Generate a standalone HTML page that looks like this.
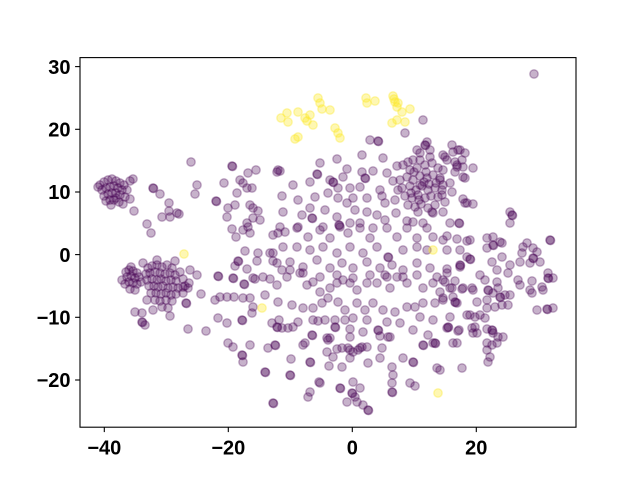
<!DOCTYPE html>
<html><head><meta charset="utf-8"><style>
html,body{margin:0;padding:0;background:#fff}
svg{display:block}
.t{font-family:"Liberation Sans",sans-serif;font-weight:bold;font-size:20px;fill:#000}
.p circle{fill:#440154;fill-opacity:.3;stroke:#440154;stroke-opacity:.3;stroke-width:1.4}
.y circle{fill:#fde725;fill-opacity:.35;stroke:#fde725;stroke-opacity:.35;stroke-width:1.4}
</style></head><body>
<svg width="640" height="480" viewBox="0 0 640 480" xmlns="http://www.w3.org/2000/svg">
<rect width="640" height="480" fill="#fff"/>
<g class="p">
<!-- top-left cluster -->
<circle r="4.2" cx="100" cy="185"/><circle r="4.2" cx="104" cy="182"/><circle r="4.2" cx="108" cy="180"/><circle r="4.2" cx="112" cy="179"/><circle r="4.2" cx="116" cy="181"/><circle r="4.2" cx="120" cy="183"/><circle r="4.2" cx="124" cy="185"/><circle r="4.2" cx="102" cy="190"/><circle r="4.2" cx="106" cy="188"/><circle r="4.2" cx="110" cy="187"/><circle r="4.2" cx="114" cy="186"/><circle r="4.2" cx="118" cy="188"/><circle r="4.2" cx="122" cy="190"/><circle r="4.2" cx="127" cy="190"/><circle r="4.2" cx="104" cy="196"/><circle r="4.2" cx="108" cy="194"/><circle r="4.2" cx="112" cy="193"/><circle r="4.2" cx="116" cy="193"/><circle r="4.2" cx="120" cy="195"/><circle r="4.2" cx="125" cy="197"/><circle r="4.2" cx="106" cy="201"/><circle r="4.2" cx="110" cy="200"/><circle r="4.2" cx="114" cy="200"/><circle r="4.2" cx="119" cy="202"/><circle r="4.2" cx="123" cy="204"/><circle r="4.2" cx="111" cy="205"/><circle r="4.2" cx="130" cy="181"/><circle r="4.2" cx="133" cy="179"/><circle r="4.2" cx="98" cy="187"/><circle r="4.2" cx="130" cy="199"/><circle r="4.2" cx="116" cy="198"/>
<!-- bottom-left cluster -->
<circle r="4.2" cx="126" cy="272"/><circle r="4.2" cx="129" cy="270"/><circle r="4.2" cx="133" cy="271"/><circle r="4.2" cx="137" cy="273"/><circle r="4.2" cx="127" cy="277"/><circle r="4.2" cx="131" cy="276"/><circle r="4.2" cx="135" cy="278"/><circle r="4.2" cx="139" cy="277"/><circle r="4.2" cx="129" cy="282"/><circle r="4.2" cx="133" cy="283"/><circle r="4.2" cx="137" cy="284"/><circle r="4.2" cx="125" cy="284"/><circle r="4.2" cx="130" cy="289"/><circle r="4.2" cx="135" cy="290"/><circle r="4.2" cx="122" cy="280"/><circle r="4.2" cx="141" cy="282"/><circle r="4.2" cx="131" cy="267"/>
<circle r="4.2" cx="148" cy="268"/><circle r="4.2" cx="152" cy="266"/><circle r="4.2" cx="157" cy="265"/><circle r="4.2" cx="162" cy="267"/><circle r="4.2" cx="167" cy="265"/><circle r="4.2" cx="172" cy="268"/><circle r="4.2" cx="146" cy="274"/><circle r="4.2" cx="150" cy="273"/><circle r="4.2" cx="155" cy="272"/><circle r="4.2" cx="160" cy="273"/><circle r="4.2" cx="165" cy="274"/><circle r="4.2" cx="170" cy="273"/><circle r="4.2" cx="175" cy="275"/><circle r="4.2" cx="180" cy="272"/><circle r="4.2" cx="147" cy="280"/><circle r="4.2" cx="152" cy="279"/><circle r="4.2" cx="157" cy="280"/><circle r="4.2" cx="161" cy="279"/><circle r="4.2" cx="166" cy="281"/><circle r="4.2" cx="171" cy="280"/><circle r="4.2" cx="176" cy="281"/><circle r="4.2" cx="183" cy="279"/><circle r="4.2" cx="149" cy="286"/><circle r="4.2" cx="154" cy="286"/><circle r="4.2" cx="158" cy="287"/><circle r="4.2" cx="163" cy="286"/><circle r="4.2" cx="168" cy="288"/><circle r="4.2" cx="173" cy="287"/><circle r="4.2" cx="178" cy="288"/><circle r="4.2" cx="185" cy="286"/><circle r="4.2" cx="151" cy="293"/><circle r="4.2" cx="156" cy="293"/><circle r="4.2" cx="161" cy="294"/><circle r="4.2" cx="166" cy="293"/><circle r="4.2" cx="171" cy="295"/><circle r="4.2" cx="176" cy="294"/><circle r="4.2" cx="155" cy="300"/><circle r="4.2" cx="160" cy="301"/><circle r="4.2" cx="166" cy="300"/><circle r="4.2" cx="172" cy="301"/><circle r="4.2" cx="147" cy="300"/><circle r="4.2" cx="162" cy="307"/><circle r="4.2" cx="175" cy="261"/><circle r="4.2" cx="143" cy="263"/><circle r="4.2" cx="183" cy="293"/><circle r="4.2" cx="189" cy="283"/><circle r="4.2" cx="157" cy="260"/><circle r="4.2" cx="190" cy="270"/>
<!-- left-middle region -->
<circle r="4.2" cx="191" cy="162"/><circle r="4.2" cx="232" cy="166"/><circle r="4.2" cx="232.5" cy="166.5"/><circle r="4.2" cx="248" cy="173"/><circle r="4.2" cx="256" cy="170"/><circle r="4.2" cx="277" cy="172"/><circle r="4.2" cx="224" cy="183"/><circle r="4.2" cx="197" cy="185"/><circle r="4.2" cx="195" cy="194"/><circle r="4.2" cx="153" cy="188"/><circle r="4.2" cx="153.5" cy="188.5"/><circle r="4.2" cx="160" cy="194"/>
<circle r="4.2" cx="216" cy="201"/><circle r="4.2" cx="216.5" cy="201.5"/><circle r="4.2" cx="240" cy="180"/><circle r="4.2" cx="243" cy="183"/><circle r="4.2" cx="237" cy="193"/><circle r="4.2" cx="247" cy="188"/><circle r="4.2" cx="252" cy="188"/><circle r="4.2" cx="169" cy="203"/><circle r="4.2" cx="169" cy="211"/><circle r="4.2" cx="134" cy="211"/><circle r="4.2" cx="162" cy="217"/><circle r="4.2" cx="170" cy="217"/><circle r="4.2" cx="177" cy="213"/><circle r="4.2" cx="179" cy="214"/><circle r="4.2" cx="228" cy="208"/><circle r="4.2" cx="235" cy="205"/><circle r="4.2" cx="227" cy="217"/><circle r="4.2" cx="250" cy="205"/><circle r="4.2" cx="253" cy="208"/><circle r="4.2" cx="258" cy="211"/><circle r="4.2" cx="253" cy="218"/><circle r="4.2" cx="260" cy="220"/><circle r="4.2" cx="247" cy="223"/><circle r="4.2" cx="147" cy="224"/><circle r="4.2" cx="151" cy="233"/><circle r="4.2" cx="232" cy="229"/><circle r="4.2" cx="236" cy="237"/><circle r="4.2" cx="243" cy="230"/><circle r="4.2" cx="248" cy="227"/><circle r="4.2" cx="250" cy="233"/><circle r="4.2" cx="273" cy="235"/><circle r="4.2" cx="278" cy="233"/>
<circle r="4.2" cx="245" cy="251"/><circle r="4.2" cx="238" cy="261"/><circle r="4.2" cx="238.5" cy="261.5"/><circle r="4.2" cx="235" cy="266"/><circle r="4.2" cx="247" cy="269"/><circle r="4.2" cx="258" cy="253"/><circle r="4.2" cx="257" cy="261"/><circle r="4.2" cx="273" cy="253"/><circle r="4.2" cx="273" cy="261"/>
<circle r="4.2" cx="197" cy="275"/><circle r="4.2" cx="201" cy="294"/><circle r="4.2" cx="186" cy="303"/><circle r="4.2" cx="186.5" cy="303.5"/><circle r="4.2" cx="218" cy="276"/><circle r="4.2" cx="218.5" cy="276.5"/><circle r="4.2" cx="233" cy="278"/><circle r="4.2" cx="233.5" cy="278.5"/><circle r="4.2" cx="244" cy="284"/><circle r="4.2" cx="244.5" cy="284.5"/><circle r="4.2" cx="255" cy="279"/><circle r="4.2" cx="263" cy="277"/><circle r="4.2" cx="270" cy="279"/><circle r="4.2" cx="277" cy="285"/><circle r="4.2" cx="215" cy="300"/><circle r="4.2" cx="220" cy="297"/><circle r="4.2" cx="227" cy="297"/><circle r="4.2" cx="234" cy="297"/><circle r="4.2" cx="243" cy="298"/><circle r="4.2" cx="250" cy="298"/>
<circle r="4.2" cx="265" cy="295"/><circle r="4.2" cx="253" cy="307"/><circle r="4.2" cx="252" cy="313"/><circle r="4.2" cx="242" cy="320"/><circle r="4.2" cx="242.5" cy="320.5"/><circle r="4.2" cx="227" cy="323"/><circle r="4.2" cx="272" cy="323"/><circle r="4.2" cx="277" cy="327"/><circle r="4.2" cx="277.5" cy="327.5"/><circle r="4.2" cx="135" cy="312"/><circle r="4.2" cx="142" cy="313"/><circle r="4.2" cx="142" cy="322"/><circle r="4.2" cx="142.5" cy="322.5"/><circle r="4.2" cx="145" cy="325"/><circle r="4.2" cx="153" cy="310"/><circle r="4.2" cx="168" cy="308"/><circle r="4.2" cx="170" cy="316"/><circle r="4.2" cx="188" cy="329"/><circle r="4.2" cx="206" cy="331"/>
<circle r="4.2" cx="183" cy="287"/><circle r="4.2" cx="188" cy="288"/><circle r="4.2" cx="218" cy="318"/>
<!-- lower middle -->
<circle r="4.2" cx="228" cy="343"/><circle r="4.2" cx="233" cy="347"/><circle r="4.2" cx="242" cy="355"/><circle r="4.2" cx="242.5" cy="355.5"/><circle r="4.2" cx="243" cy="362"/><circle r="4.2" cx="250" cy="345"/><circle r="4.2" cx="265" cy="372"/><circle r="4.2" cx="265.5" cy="372.5"/><circle r="4.2" cx="273" cy="403"/><circle r="4.2" cx="273.5" cy="403.5"/><circle r="4.2" cx="290" cy="375"/><circle r="4.2" cx="290.5" cy="375.5"/><circle r="4.2" cx="268" cy="348"/><circle r="4.2" cx="275" cy="345"/><circle r="4.2" cx="275.5" cy="345.5"/><circle r="4.2" cx="291" cy="359"/><circle r="4.2" cx="310" cy="362"/><circle r="4.2" cx="310.5" cy="362.5"/><circle r="4.2" cx="320" cy="383"/><circle r="4.2" cx="310" cy="392"/><circle r="4.2" cx="308" cy="397"/><circle r="4.2" cx="340" cy="388"/><circle r="4.2" cx="340.5" cy="388.5"/><circle r="4.2" cx="353" cy="382"/><circle r="4.2" cx="360" cy="388"/><circle r="4.2" cx="352" cy="393"/><circle r="4.2" cx="352.5" cy="393.5"/><circle r="4.2" cx="355" cy="397"/><circle r="4.2" cx="347" cy="402"/><circle r="4.2" cx="357" cy="402"/><circle r="4.2" cx="363" cy="405"/><circle r="4.2" cx="368" cy="410"/><circle r="4.2" cx="368.5" cy="410.5"/>
<circle r="4.2" cx="333" cy="357"/><circle r="4.2" cx="342" cy="367"/><circle r="4.2" cx="329" cy="366"/><circle r="4.2" cx="319" cy="382"/><circle r="4.2" cx="353" cy="352"/><circle r="4.2" cx="360" cy="348"/><circle r="4.2" cx="368" cy="363"/><circle r="4.2" cx="348" cy="348"/><circle r="4.2" cx="342" cy="348"/><circle r="4.2" cx="327" cy="338"/><circle r="4.2" cx="335" cy="327"/><circle r="4.2" cx="335.5" cy="327.5"/><circle r="4.2" cx="312" cy="335"/><circle r="4.2" cx="312.5" cy="335.5"/><circle r="4.2" cx="305" cy="343"/><circle r="4.2" cx="380" cy="358"/><circle r="4.2" cx="382" cy="348"/><circle r="4.2" cx="392" cy="367"/><circle r="4.2" cx="393" cy="375"/><circle r="4.2" cx="392" cy="383"/><circle r="4.2" cx="392" cy="392"/><circle r="4.2" cx="392.5" cy="392.5"/><circle r="4.2" cx="410" cy="383"/><circle r="4.2" cx="415" cy="386"/><circle r="4.2" cx="403" cy="358"/><circle r="4.2" cx="413" cy="362"/><circle r="4.2" cx="413.5" cy="362.5"/><circle r="4.2" cx="423" cy="345"/><circle r="4.2" cx="423.5" cy="345.5"/><circle r="4.2" cx="433" cy="343"/><circle r="4.2" cx="437" cy="368"/><circle r="4.2" cx="420" cy="317"/><circle r="4.2" cx="433" cy="320"/><circle r="4.2" cx="447" cy="328"/><circle r="4.2" cx="413" cy="330"/><circle r="4.2" cx="428" cy="335"/><circle r="4.2" cx="435" cy="343"/><circle r="4.2" cx="435.5" cy="343.5"/><circle r="4.2" cx="378" cy="330"/><circle r="4.2" cx="378.5" cy="330.5"/><circle r="4.2" cx="380" cy="336"/><circle r="4.2" cx="390" cy="337"/><circle r="4.2" cx="362" cy="347"/>
<circle r="4.2" cx="279" cy="320"/><circle r="4.2" cx="282" cy="328"/><circle r="4.2" cx="288" cy="328"/><circle r="4.2" cx="293" cy="327"/><circle r="4.2" cx="298" cy="322"/><circle r="4.2" cx="303" cy="345"/><circle r="4.2" cx="328" cy="340"/><circle r="4.2" cx="327" cy="352"/><circle r="4.2" cx="337" cy="349"/><circle r="4.2" cx="350" cy="350"/><circle r="4.2" cx="358" cy="350"/><circle r="4.2" cx="367" cy="347"/><circle r="4.2" cx="350" cy="358"/><circle r="4.2" cx="313" cy="320"/><circle r="4.2" cx="318" cy="321"/><circle r="4.2" cx="330" cy="338"/><circle r="4.2" cx="350" cy="329"/><circle r="4.2" cx="350" cy="337"/><circle r="4.2" cx="363" cy="332"/><circle r="4.2" cx="388" cy="337"/><circle r="4.2" cx="457" cy="343"/><circle r="4.2" cx="459" cy="330"/><circle r="4.2" cx="472" cy="328"/><circle r="4.2" cx="477" cy="333"/><circle r="4.2" cx="480" cy="315"/><circle r="4.2" cx="450" cy="317"/><circle r="4.2" cx="457" cy="303"/><circle r="4.2" cx="455" cy="302"/><circle r="4.2" cx="455.5" cy="302.5"/>
<!-- middle rows -->
<circle r="4.2" cx="253" cy="278"/><circle r="4.2" cx="282" cy="270"/><circle r="4.2" cx="290" cy="270"/><circle r="4.2" cx="300" cy="273"/><circle r="4.2" cx="307" cy="285"/><circle r="4.2" cx="313" cy="282"/><circle r="4.2" cx="320" cy="292"/><circle r="4.2" cx="330" cy="288"/><circle r="4.2" cx="337" cy="283"/><circle r="4.2" cx="343" cy="280"/><circle r="4.2" cx="350" cy="283"/><circle r="4.2" cx="357" cy="290"/><circle r="4.2" cx="367" cy="283"/><circle r="4.2" cx="377" cy="283"/><circle r="4.2" cx="385" cy="275"/><circle r="4.2" cx="390" cy="288"/><circle r="4.2" cx="397" cy="277"/><circle r="4.2" cx="407" cy="283"/><circle r="4.2" cx="417" cy="275"/><circle r="4.2" cx="423" cy="288"/><circle r="4.2" cx="433" cy="283"/><circle r="4.2" cx="443" cy="280"/><circle r="4.2" cx="450" cy="288"/><circle r="4.2" cx="463" cy="288"/><circle r="4.2" cx="473" cy="290"/>
<circle r="4.2" cx="278" cy="302"/><circle r="4.2" cx="292" cy="305"/><circle r="4.2" cx="303" cy="308"/><circle r="4.2" cx="313" cy="308"/><circle r="4.2" cx="322" cy="303"/><circle r="4.2" cx="328" cy="298"/><circle r="4.2" cx="338" cy="302"/><circle r="4.2" cx="345" cy="310"/><circle r="4.2" cx="357" cy="303"/><circle r="4.2" cx="365" cy="310"/><circle r="4.2" cx="373" cy="303"/><circle r="4.2" cx="383" cy="310"/><circle r="4.2" cx="395" cy="312"/><circle r="4.2" cx="407" cy="307"/><circle r="4.2" cx="415" cy="307"/><circle r="4.2" cx="423" cy="303"/><circle r="4.2" cx="435" cy="303"/><circle r="4.2" cx="443" cy="298"/><circle r="4.2" cx="453" cy="297"/><circle r="4.2" cx="477" cy="302"/><circle r="4.2" cx="325" cy="320"/><circle r="4.2" cx="335" cy="320"/><circle r="4.2" cx="345" cy="320"/><circle r="4.2" cx="353" cy="318"/><circle r="4.2" cx="367" cy="320"/><circle r="4.2" cx="387" cy="322"/><circle r="4.2" cx="400" cy="323"/>
<circle r="4.2" cx="285" cy="232"/><circle r="4.2" cx="297" cy="228"/><circle r="4.2" cx="308" cy="237"/><circle r="4.2" cx="320" cy="230"/><circle r="4.2" cx="330" cy="238"/><circle r="4.2" cx="340" cy="227"/><circle r="4.2" cx="348" cy="233"/><circle r="4.2" cx="360" cy="228"/><circle r="4.2" cx="370" cy="238"/><circle r="4.2" cx="373" cy="228"/><circle r="4.2" cx="387" cy="228"/><circle r="4.2" cx="397" cy="237"/><circle r="4.2" cx="407" cy="228"/><circle r="4.2" cx="417" cy="238"/><circle r="4.2" cx="427" cy="228"/><circle r="4.2" cx="433" cy="237"/><circle r="4.2" cx="443" cy="240"/><circle r="4.2" cx="470" cy="240"/>
<circle r="4.2" cx="270" cy="253"/><circle r="4.2" cx="283" cy="247"/><circle r="4.2" cx="297" cy="247"/><circle r="4.2" cx="310" cy="250"/><circle r="4.2" cx="323" cy="247"/><circle r="4.2" cx="337" cy="253"/><circle r="4.2" cx="350" cy="247"/><circle r="4.2" cx="363" cy="253"/><circle r="4.2" cx="377" cy="247"/><circle r="4.2" cx="388" cy="257"/><circle r="4.2" cx="388.5" cy="257.5"/><circle r="4.2" cx="403" cy="250"/><circle r="4.2" cx="417" cy="247"/><circle r="4.2" cx="427" cy="250"/><circle r="4.2" cx="460" cy="250"/><circle r="4.2" cx="467" cy="257"/>
<circle r="4.2" cx="277" cy="263"/><circle r="4.2" cx="290" cy="262"/><circle r="4.2" cx="303" cy="267"/><circle r="4.2" cx="317" cy="260"/><circle r="4.2" cx="330" cy="268"/><circle r="4.2" cx="342" cy="263"/><circle r="4.2" cx="353" cy="268"/><circle r="4.2" cx="367" cy="262"/><circle r="4.2" cx="380" cy="268"/><circle r="4.2" cx="392" cy="265"/><circle r="4.2" cx="403" cy="270"/><circle r="4.2" cx="417" cy="263"/><circle r="4.2" cx="430" cy="268"/><circle r="4.2" cx="460" cy="267"/>
<circle r="4.2" cx="287" cy="277"/><circle r="4.2" cx="303" cy="273"/><circle r="4.2" cx="320" cy="277"/><circle r="4.2" cx="337" cy="275"/><circle r="4.2" cx="353" cy="278"/><circle r="4.2" cx="370" cy="275"/><circle r="4.2" cx="387" cy="277"/><circle r="4.2" cx="403" cy="277"/><circle r="4.2" cx="437" cy="277"/>
<!-- upper middle -->
<circle r="4.2" cx="423" cy="120"/><circle r="4.2" cx="405" cy="133"/><circle r="4.2" cx="370" cy="140"/><circle r="4.2" cx="378" cy="141"/><circle r="4.2" cx="378.5" cy="141.5"/><circle r="4.2" cx="427" cy="142"/><circle r="4.2" cx="425" cy="145"/><circle r="4.2" cx="425.5" cy="145.5"/><circle r="4.2" cx="430" cy="150"/><circle r="4.2" cx="417" cy="150"/><circle r="4.2" cx="420" cy="153"/><circle r="4.2" cx="452" cy="145"/><circle r="4.2" cx="453" cy="152"/><circle r="4.2" cx="460" cy="150"/><circle r="4.2" cx="465" cy="153"/><circle r="4.2" cx="362" cy="155"/><circle r="4.2" cx="383" cy="158"/><circle r="4.2" cx="397" cy="166"/><circle r="4.2" cx="408" cy="162"/><circle r="4.2" cx="413" cy="160"/><circle r="4.2" cx="443" cy="155"/><circle r="4.2" cx="447" cy="160"/><circle r="4.2" cx="455" cy="162"/><circle r="4.2" cx="462" cy="160"/><circle r="4.2" cx="463" cy="167"/><circle r="4.2" cx="457" cy="167"/><circle r="4.2" cx="465" cy="178"/>
<circle r="4.2" cx="320" cy="163"/><circle r="4.2" cx="337" cy="159"/><circle r="4.2" cx="280" cy="171"/><circle r="4.2" cx="278" cy="170"/><circle r="4.2" cx="317" cy="174"/><circle r="4.2" cx="317.5" cy="174.5"/><circle r="4.2" cx="347" cy="169"/><circle r="4.2" cx="343" cy="177"/><circle r="4.2" cx="362" cy="172"/><circle r="4.2" cx="365" cy="178"/><circle r="4.2" cx="365.5" cy="178.5"/><circle r="4.2" cx="373" cy="171"/><circle r="4.2" cx="387" cy="173"/><circle r="4.2" cx="393" cy="181"/><circle r="4.2" cx="330" cy="180"/><circle r="4.2" cx="333" cy="182"/><circle r="4.2" cx="333.5" cy="182.5"/><circle r="4.2" cx="338" cy="188"/><circle r="4.2" cx="310" cy="182"/><circle r="4.2" cx="293" cy="185"/>
<circle r="4.2" cx="282" cy="196"/><circle r="4.2" cx="298" cy="200"/><circle r="4.2" cx="315" cy="197"/><circle r="4.2" cx="328" cy="193"/><circle r="4.2" cx="338" cy="198"/><circle r="4.2" cx="350" cy="188"/><circle r="4.2" cx="353" cy="198"/><circle r="4.2" cx="360" cy="187"/><circle r="4.2" cx="367" cy="198"/><circle r="4.2" cx="380" cy="190"/><circle r="4.2" cx="382" cy="196"/><circle r="4.2" cx="385" cy="203"/><circle r="4.2" cx="395" cy="200"/><circle r="4.2" cx="398" cy="190"/><circle r="4.2" cx="347" cy="203"/><circle r="4.2" cx="355" cy="210"/>
<circle r="4.2" cx="283" cy="212"/><circle r="4.2" cx="302" cy="215"/><circle r="4.2" cx="310" cy="208"/><circle r="4.2" cx="312" cy="218"/><circle r="4.2" cx="312.5" cy="218.5"/><circle r="4.2" cx="325" cy="210"/><circle r="4.2" cx="337" cy="217"/><circle r="4.2" cx="339" cy="225"/><circle r="4.2" cx="339.5" cy="225.5"/><circle r="4.2" cx="350" cy="223"/><circle r="4.2" cx="360" cy="223"/><circle r="4.2" cx="367" cy="212"/><circle r="4.2" cx="377" cy="215"/><circle r="4.2" cx="385" cy="220"/><circle r="4.2" cx="396" cy="213"/><circle r="4.2" cx="407" cy="221"/><circle r="4.2" cx="413" cy="222"/><circle r="4.2" cx="423" cy="223"/><circle r="4.2" cx="433" cy="213"/><circle r="4.2" cx="443" cy="212"/><circle r="4.2" cx="450" cy="223"/><circle r="4.2" cx="459" cy="223"/><circle r="4.2" cx="459.5" cy="223.5"/><circle r="4.2" cx="465" cy="203"/><circle r="4.2" cx="463" cy="199"/><circle r="4.2" cx="450" cy="183"/><circle r="4.2" cx="452" cy="192"/><circle r="4.2" cx="280" cy="227"/><circle r="4.2" cx="298" cy="227"/><circle r="4.2" cx="323" cy="227"/>
<!-- dense cluster -->
<circle r="4.2" cx="403" cy="165"/><circle r="4.2" cx="410" cy="170"/><circle r="4.2" cx="417" cy="168"/><circle r="4.2" cx="425" cy="165"/><circle r="4.2" cx="432" cy="163"/><circle r="4.2" cx="438" cy="168"/><circle r="4.2" cx="407" cy="177"/><circle r="4.2" cx="413" cy="180"/><circle r="4.2" cx="420" cy="176"/><circle r="4.2" cx="427" cy="178"/><circle r="4.2" cx="433" cy="175"/><circle r="4.2" cx="440" cy="180"/><circle r="4.2" cx="402" cy="188"/><circle r="4.2" cx="410" cy="186"/><circle r="4.2" cx="416" cy="190"/><circle r="4.2" cx="422" cy="186"/><circle r="4.2" cx="428" cy="190"/><circle r="4.2" cx="435" cy="188"/><circle r="4.2" cx="405" cy="196"/><circle r="4.2" cx="412" cy="198"/><circle r="4.2" cx="418" cy="195"/><circle r="4.2" cx="425" cy="198"/><circle r="4.2" cx="431" cy="196"/><circle r="4.2" cx="438" cy="197"/><circle r="4.2" cx="408" cy="205"/><circle r="4.2" cx="415" cy="207"/><circle r="4.2" cx="421" cy="204"/><circle r="4.2" cx="428" cy="208"/><circle r="4.2" cx="435" cy="205"/><circle r="4.2" cx="420" cy="160"/><circle r="4.2" cx="430" cy="157"/><circle r="4.2" cx="411" cy="193"/><circle r="4.2" cx="424" cy="182"/><circle r="4.2" cx="436" cy="183"/><circle r="4.2" cx="414" cy="172"/><circle r="4.2" cx="426" cy="172"/><circle r="4.2" cx="400" cy="180"/><circle r="4.2" cx="442" cy="190"/><circle r="4.2" cx="418" cy="212"/><circle r="4.2" cx="432" cy="212"/><circle r="4.2" cx="420" cy="185"/><circle r="4.2" cx="429" cy="184"/><circle r="4.2" cx="419" cy="200"/>
<!-- right region -->
<circle r="4.2" cx="534" cy="74"/><circle r="4.2" cx="445" cy="157"/><circle r="4.2" cx="458" cy="150"/><circle r="4.2" cx="457" cy="165"/><circle r="4.2" cx="473" cy="168"/><circle r="4.2" cx="455" cy="172"/><circle r="4.2" cx="463" cy="177"/><circle r="4.2" cx="443" cy="170"/><circle r="4.2" cx="440" cy="178"/><circle r="4.2" cx="443" cy="185"/><circle r="4.2" cx="442" cy="195"/><circle r="4.2" cx="445" cy="202"/><circle r="4.2" cx="467" cy="203"/><circle r="4.2" cx="473" cy="204"/><circle r="4.2" cx="510" cy="212"/><circle r="4.2" cx="512" cy="215"/><circle r="4.2" cx="512.5" cy="215.5"/><circle r="4.2" cx="510" cy="223"/>
<circle r="4.2" cx="447" cy="236"/><circle r="4.2" cx="457" cy="239"/><circle r="4.2" cx="467" cy="241"/><circle r="4.2" cx="447" cy="250"/><circle r="4.2" cx="487" cy="238"/><circle r="4.2" cx="493" cy="237"/><circle r="4.2" cx="500" cy="242"/><circle r="4.2" cx="493" cy="245"/><circle r="4.2" cx="493.5" cy="245.5"/><circle r="4.2" cx="502" cy="243"/><circle r="4.2" cx="487" cy="248"/><circle r="4.2" cx="550" cy="240"/><circle r="4.2" cx="550.5" cy="240.5"/><circle r="4.2" cx="523" cy="247"/><circle r="4.2" cx="527" cy="243"/><circle r="4.2" cx="533" cy="248"/><circle r="4.2" cx="537" cy="252"/><circle r="4.2" cx="533" cy="258"/><circle r="4.2" cx="533.5" cy="258.5"/><circle r="4.2" cx="540" cy="262"/><circle r="4.2" cx="522" cy="253"/><circle r="4.2" cx="520" cy="262"/><circle r="4.2" cx="530" cy="263"/>
<circle r="4.2" cx="470" cy="259"/><circle r="4.2" cx="470.5" cy="259.5"/><circle r="4.2" cx="460" cy="265"/><circle r="4.2" cx="460.5" cy="265.5"/><circle r="4.2" cx="447" cy="269"/><circle r="4.2" cx="447" cy="273"/><circle r="4.2" cx="492" cy="262"/><circle r="4.2" cx="502" cy="257"/><circle r="4.2" cx="497" cy="270"/><circle r="4.2" cx="510" cy="265"/><circle r="4.2" cx="508" cy="273"/><circle r="4.2" cx="480" cy="275"/><circle r="4.2" cx="485" cy="280"/><circle r="4.2" cx="497" cy="282"/><circle r="4.2" cx="498" cy="288"/><circle r="4.2" cx="518" cy="280"/><circle r="4.2" cx="520" cy="285"/><circle r="4.2" cx="532" cy="281"/><circle r="4.2" cx="530" cy="290"/><circle r="4.2" cx="532" cy="293"/><circle r="4.2" cx="542" cy="287"/><circle r="4.2" cx="543" cy="290"/><circle r="4.2" cx="548" cy="273"/><circle r="4.2" cx="548" cy="278"/><circle r="4.2" cx="548.5" cy="278.5"/><circle r="4.2" cx="553" cy="278"/>
<circle r="4.2" cx="445" cy="282"/><circle r="4.2" cx="455" cy="281"/><circle r="4.2" cx="462" cy="289"/><circle r="4.2" cx="472" cy="288"/><circle r="4.2" cx="440" cy="292"/><circle r="4.2" cx="452" cy="288"/><circle r="4.2" cx="488" cy="290"/><circle r="4.2" cx="488.5" cy="290.5"/><circle r="4.2" cx="493" cy="293"/><circle r="4.2" cx="487" cy="300"/><circle r="4.2" cx="500" cy="297"/><circle r="4.2" cx="500.5" cy="297.5"/><circle r="4.2" cx="505" cy="295"/><circle r="4.2" cx="510" cy="295"/><circle r="4.2" cx="502" cy="305"/><circle r="4.2" cx="508" cy="305"/><circle r="4.2" cx="495" cy="307"/><circle r="4.2" cx="487" cy="308"/><circle r="4.2" cx="443" cy="300"/><circle r="4.2" cx="467" cy="315"/><circle r="4.2" cx="470" cy="315"/><circle r="4.2" cx="475" cy="317"/><circle r="4.2" cx="485" cy="318"/><circle r="4.2" cx="537" cy="310"/><circle r="4.2" cx="547" cy="309"/><circle r="4.2" cx="547.5" cy="309.5"/><circle r="4.2" cx="553" cy="308"/>
<circle r="4.2" cx="448" cy="327"/><circle r="4.2" cx="448.5" cy="327.5"/><circle r="4.2" cx="458" cy="331"/><circle r="4.2" cx="475" cy="327"/><circle r="4.2" cx="473" cy="333"/><circle r="4.2" cx="487" cy="329"/><circle r="4.2" cx="492" cy="330"/><circle r="4.2" cx="492.5" cy="330.5"/><circle r="4.2" cx="493" cy="333"/><circle r="4.2" cx="498" cy="337"/><circle r="4.2" cx="503" cy="337"/><circle r="4.2" cx="487" cy="343"/><circle r="4.2" cx="492" cy="345"/><circle r="4.2" cx="497" cy="343"/><circle r="4.2" cx="487" cy="350"/><circle r="4.2" cx="490" cy="357"/><circle r="4.2" cx="488" cy="362"/><circle r="4.2" cx="453" cy="343"/><circle r="4.2" cx="462" cy="368"/><circle r="4.2" cx="440" cy="370"/>
</g>
<g class="y">
<circle r="4.2" cx="281" cy="118"/><circle r="4.2" cx="287" cy="113"/><circle r="4.2" cx="288" cy="122"/><circle r="4.2" cx="298" cy="112"/><circle r="4.2" cx="318" cy="98"/><circle r="4.2" cx="320" cy="103"/><circle r="4.2" cx="322" cy="109"/><circle r="4.2" cx="330" cy="110"/><circle r="4.2" cx="305" cy="118"/><circle r="4.2" cx="307" cy="121"/><circle r="4.2" cx="310" cy="115"/><circle r="4.2" cx="313" cy="125"/><circle r="4.2" cx="335" cy="128"/><circle r="4.2" cx="338" cy="133"/><circle r="4.2" cx="340" cy="138"/><circle r="4.2" cx="295" cy="139"/><circle r="4.2" cx="298" cy="137"/><circle r="4.2" cx="366" cy="98"/><circle r="4.2" cx="367" cy="103"/><circle r="4.2" cx="375" cy="101"/><circle r="4.2" cx="393" cy="96"/><circle r="4.2" cx="395" cy="102"/><circle r="4.2" cx="398" cy="103"/><circle r="4.2" cx="397" cy="107"/><circle r="4.2" cx="402" cy="112"/><circle r="4.2" cx="410" cy="109"/><circle r="4.2" cx="392" cy="123"/><circle r="4.2" cx="397" cy="120"/><circle r="4.2" cx="405" cy="122"/><circle r="4.2" cx="394" cy="99"/>
<circle r="4.2" cx="184" cy="254"/><circle r="4.2" cx="262" cy="308"/><circle r="4.2" cx="433" cy="250"/><circle r="4.2" cx="438" cy="393"/>
</g>
<!-- axes -->
<rect x="80" y="57.6" width="496" height="369.6" fill="none" stroke="#000" stroke-width="1.1"/>
<g stroke="#000" stroke-width="1.1">
<line x1="104.3" y1="427.2" x2="104.3" y2="432.1"/><line x1="228.3" y1="427.2" x2="228.3" y2="432.1"/><line x1="352.3" y1="427.2" x2="352.3" y2="432.1"/><line x1="476.3" y1="427.2" x2="476.3" y2="432.1"/>
<line x1="75.1" y1="66.6" x2="80" y2="66.6"/><line x1="75.1" y1="129.3" x2="80" y2="129.3"/><line x1="75.1" y1="192" x2="80" y2="192"/><line x1="75.1" y1="254.6" x2="80" y2="254.6"/><line x1="75.1" y1="317.3" x2="80" y2="317.3"/><line x1="75.1" y1="380" x2="80" y2="380"/>
</g>
<g class="t" text-anchor="middle">
<text x="104.3" y="454.5">−40</text><text x="228.3" y="454.5">−20</text><text x="352.3" y="454.5">0</text><text x="476.3" y="454.5">20</text>
</g>
<g class="t" text-anchor="end">
<text x="70.5" y="73.8">30</text><text x="70.5" y="136.5">20</text><text x="70.5" y="199.2">10</text><text x="70.5" y="261.8">0</text><text x="70.5" y="324.5">−10</text><text x="70.5" y="387.2">−20</text>
</g>
</svg>
</body></html>
